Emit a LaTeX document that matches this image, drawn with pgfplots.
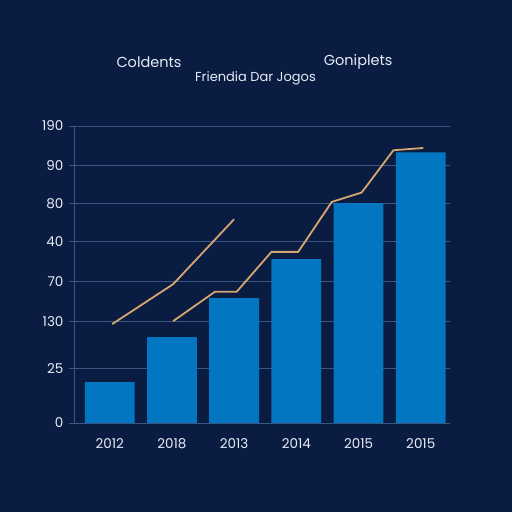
\documentclass[border=0pt]{standalone}
\usepackage{pgfplots}
\pgfplotsset{compat=1.18}
\usepackage{fontspec}
\setmainfont{Poppins}
\definecolor{bg}{RGB}{10,28,66}
\definecolor{barblue}{RGB}{2,118,192}
\definecolor{linetan}{RGB}{214,166,112}
\definecolor{gridc}{RGB}{58,86,130}
\definecolor{txt}{RGB}{230,236,245}
\begin{document}
\begin{tikzpicture}[x=1pt,y=1pt]
\fill[bg] (0,0) rectangle (512,512);
\path[use as bounding box] (0,0) rectangle (512,512);
\node[txt,font=\fontsize{14.5}{16}\selectfont,anchor=west] at (113,450) {Coldents};
\node[txt,font=\fontsize{14.5}{16}\selectfont,anchor=east] at (396,450) {Goniplets};
\node[txt,font=\fontsize{13}{15}\selectfont] at (255.5,434) {Friendia Dar Jogos};
\begin{axis}[
  at={(74pt,89pt)}, anchor=south west,
  scale only axis, width=376pt, height=297pt,
  xmin=-0.574, xmax=5.47, ymin=0, ymax=297.3,
  axis line style={gridc, line width=0.9pt},
  axis x line*=bottom, axis y line*=left,
  xtick={0,1,2,3,4,5},
  xticklabels={2012,2018,2013,2014,2015,2015},
  ytick={0,55,102,142,182,220,258,297.3},
  yticklabels={0,25,130,70,40,80,90,190},
  major tick length=5pt,
  xtick style={draw=none},
  ytick style={gridc, line width=0.9pt},
  tick align=outside,
  ymajorgrids, grid style={gridc, line width=0.9pt},
  ticklabel style={txt, font=\fontsize{13.5}{15}\selectfont},
  xticklabel style={yshift=-7pt},
  yticklabel style={xshift=-2pt},
  clip=false,
]
\addplot[ybar, bar width=0.8, fill=barblue, draw=none] coordinates {
  (0,41) (1,86) (2,125) (3,164) (4,220) (5,271)
};
\addplot[linetan, line width=1.8pt, mark=none] coordinates {
  (0.04,99) (1.02,139) (2.0,204)
};
\addplot[linetan, line width=1.8pt, mark=none] coordinates {
  (1.02,102) (1.69,131.3) (2.04,131.3) (2.6,171.3) (3.03,171.3)
  (3.57,221.3) (4.05,230.7) (4.56,273) (5.04,275.3)
};
\end{axis}
\end{tikzpicture}
\end{document}
